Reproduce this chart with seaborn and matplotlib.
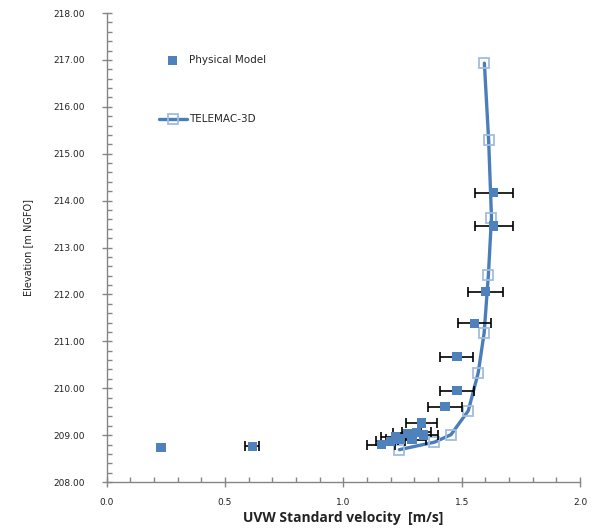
import pandas as pd
import seaborn as sns
import matplotlib.pyplot as plt
from matplotlib.ticker import MultipleLocator, FormatStrFormatter

sns.set_style("ticks")
plt.rcParams["font.family"] = ["DejaVu Sans"]

# Physical model measurements (velocity, elevation, error)
phys_vel = [0.23, 0.615, 1.635, 1.635, 1.60, 1.553, 1.48, 1.48, 1.43, 1.33,
            1.16, 1.20, 1.24, 1.22, 1.27, 1.29, 1.31, 1.34]
phys_elev = [208.74, 208.76, 214.17, 213.46, 212.06, 211.38, 210.67, 209.95, 209.61, 209.26,
             208.80, 208.87, 208.92, 208.97, 209.04, 208.90, 209.06, 209.00]
phys_err = [0.0, 0.03, 0.08, 0.08, 0.075, 0.07, 0.07, 0.072, 0.072, 0.066,
            0.058, 0.06, 0.06, 0.06, 0.06, 0.06, 0.06, 0.06]

# TELEMAC-3D profile
tel_vel = [1.237, 1.385, 1.455, 1.528, 1.57, 1.595, 1.613, 1.626, 1.614, 1.596]
tel_elev = [208.69, 208.85, 209.01, 209.52, 210.33, 211.18, 212.42, 213.64, 215.29, 216.93]

phys = pd.DataFrame({"vel": phys_vel, "elev": phys_elev, "err": phys_err})
tel = pd.DataFrame({"vel": tel_vel, "elev": tel_elev})

fig = plt.figure(figsize=(5.97, 5.29), dpi=100)
ax = fig.add_axes([0.1787, 0.0888, 0.7928, 0.8866])

blue = "#4F81BD"

sns.lineplot(x="vel", y="elev", data=tel, sort=False, ax=ax, color="#4A7EBB", lw=2.4,
             marker="s", markersize=7, markerfacecolor="none", markeredgecolor="#A3BCDD",
             markeredgewidth=1.3, label="TELEMAC-3D", zorder=2)

eb = phys[phys["err"] > 0]
ax.errorbar(eb["vel"], eb["elev"], xerr=eb["err"], fmt="none", ecolor="black",
            elinewidth=1.2, capsize=3.5, capthick=1.2, zorder=3)
sns.scatterplot(x="vel", y="elev", data=phys, ax=ax, color=blue, marker="s", s=45,
                edgecolor="none", label="Physical Model", zorder=4)

ax.set_xlim(0, 2.0)
ax.set_ylim(208, 218)
ax.xaxis.set_major_locator(MultipleLocator(0.5))
ax.xaxis.set_minor_locator(MultipleLocator(0.1))
ax.yaxis.set_major_locator(MultipleLocator(1))
ax.yaxis.set_minor_locator(MultipleLocator(0.2))
ax.xaxis.set_major_formatter(FormatStrFormatter("%.1f"))
ax.yaxis.set_major_formatter(FormatStrFormatter("%.2f"))

for s in ["top", "right"]:
    ax.spines[s].set_visible(False)
for s in ["left", "bottom"]:
    ax.spines[s].set_color("#868686")
    ax.spines[s].set_linewidth(1.0)

ax.tick_params(which="major", direction="inout", length=7, width=1, color="#868686",
               labelsize=6.5, labelcolor="#222222")
ax.tick_params(which="minor", direction="in", length=3.5, width=1, color="#868686")
ax.tick_params(axis="x", which="major", pad=8)
ax.tick_params(axis="y", which="major", pad=12)

ax.set_xlabel("UVW Standard velocity  [m/s]", fontsize=10, fontweight="bold",
              family="Open Sans", color="#222222", labelpad=3)
ax.set_ylabel("Elevation [m NGFO]", fontsize=7, color="#222222", labelpad=15)

h, l = ax.get_legend_handles_labels()
ax.legend(h[::-1], l[::-1], loc="upper left", bbox_to_anchor=(0.09, 0.93), frameon=False,
          fontsize=7.5, labelspacing=4.7, handlelength=2.7, handletextpad=0.2)

fig.savefig("out.png", dpi=100)
